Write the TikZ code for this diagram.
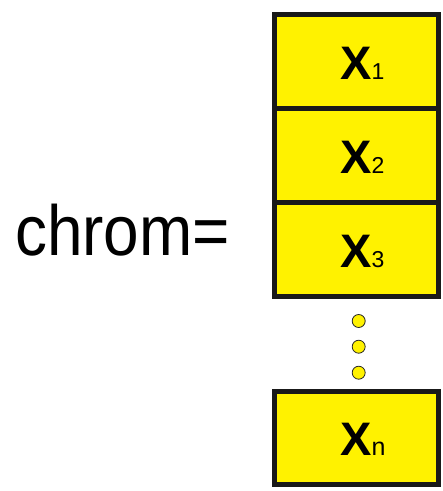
\documentclass[tikz,border=0pt]{standalone}
\usepackage{fontspec}
\setmainfont{Liberation Sans}
\definecolor{geneyellow}{RGB}{255,242,0}
\begin{document}
\begin{tikzpicture}[x=1pt,y=1pt,
  gene/.style={draw=black!90, line width=5pt, fill=geneyellow, minimum width=164pt, inner sep=0pt, outer sep=0pt},
  genetext/.style={anchor=base west, inner sep=0pt},
  dot/.style={circle, draw=black!85, line width=0.8pt, fill=geneyellow, minimum size=13pt, inner sep=0pt}]
\useasboundingbox (0,0) rectangle (443,-491);
\node[gene, minimum height=93.5pt] (b1) at (356.5,-61.25) {};
\node[gene, minimum height=94pt] (b2) at (356.5,-155) {};
\node[gene, minimum height=94pt] (b3) at (356.5,-249) {};
\node[gene, minimum height=92.5pt] (bn) at (356.5,-437.75) {};
\node[genetext] (t1) at (340,-79) {\fontsize{47}{47}\selectfont\bfseries X\mdseries\fontsize{23}{23}\selectfont 1};
\node[genetext] (t2) at (340,-173) {\fontsize{47}{47}\selectfont\bfseries X\mdseries\fontsize{23}{23}\selectfont 2};
\node[genetext] (t3) at (340,-267) {\fontsize{47}{47}\selectfont\bfseries X\mdseries\fontsize{23}{23}\selectfont 3};
\node[genetext] (tn) at (340,-455.7) {\fontsize{47}{47}\selectfont\bfseries X\mdseries\fontsize{25}{25}\selectfont n};
\node[dot] (d1) at (358.7,-321) {};
\node[dot] (d2) at (358.7,-346.7) {};
\node[dot] (d3) at (358.7,-372.7) {};
\node[anchor=base west, inner sep=0pt, xscale=0.9] (chrom) at (15,-255) {\fontsize{71}{71}\selectfont chrom=};
\end{tikzpicture}
\end{document}
